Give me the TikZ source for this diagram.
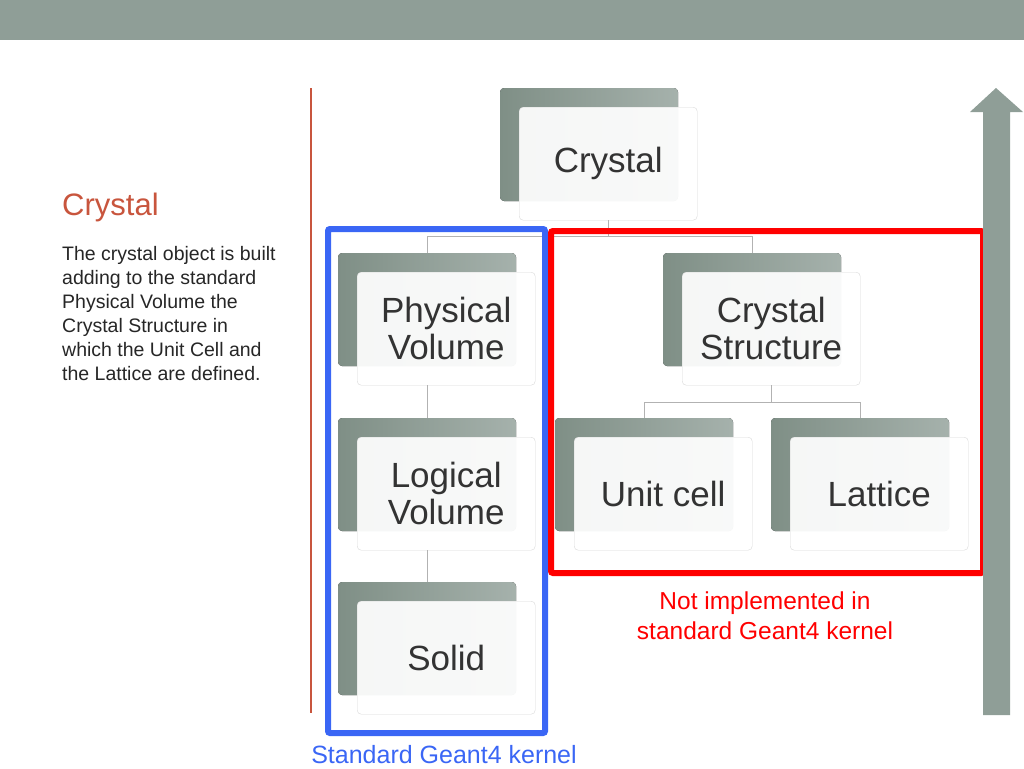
\documentclass[tikz,border=0pt]{standalone}
\usepackage{fontspec}
\setmainfont{Liberation Sans}
\usetikzlibrary{positioning,calc}
\definecolor{sage}{HTML}{8F9E97}
\definecolor{sagedark}{HTML}{7F8F86}
\definecolor{titlered}{HTML}{C8553D}
\definecolor{kblue}{HTML}{3A66F5}
\tikzset{
  backbox/.style={rounded corners=4pt,left color=sagedark,right color=sage!80,draw=none},
  frontbox/.style={draw=black!15,fill=white,fill opacity=.93,text opacity=1,rounded corners=4pt,
    minimum width=178pt,minimum height=113pt,inner sep=0pt,align=center,font=\fontsize{35}{37}\selectfont,text=black!80},
  link/.style={draw=black!30,line width=.8pt}
}
\begin{document}
\begin{tikzpicture}[x=1pt,y=-1pt]
  \useasboundingbox (0,0) rectangle (1024,768);
  \fill[sage] (0,0) rectangle (1024,40);
  % linke Spalte
  \draw[titlered,line width=1.5pt] (311,88)--(311,713);
  \node[anchor=west,inner sep=0pt,text=titlered,font=\fontsize{31}{32}\selectfont] (title) at (62,207) {Crystal};
  \node[anchor=north west,align=left,inner sep=0pt,font=\fontsize{19.5}{24}\selectfont,text=black!85] (desc) at (62,246)
    {The crystal object is built\\adding to the standard\\Physical Volume the\\Crystal Structure in\\which the Unit Cell and\\the Lattice are defined.};
  % Kaesten
  \foreach \name/\x/\y/\txt in {crystal/519/107/Crystal, phys/357/272/{Physical\\Volume},
      logic/357/437/{Logical\\Volume}, solid/357/601/Solid, struct/682/272/{Crystal\\Structure},
      unit/574/437/{Unit cell}, lattice/790/437/Lattice} {
    \fill[backbox] (\x-19,\y-19) rectangle ++(178,113);
    \node[frontbox,anchor=north west] (\name) at (\x,\y) {\txt};
  }
  % Verbindungen
  \draw[link] (crystal.south) -- ++(0,16) coordinate (c1);
  \draw[link] ($(phys.north)+(-19,-19)$) |- (c1) -| ($(struct.north)+(-19,-19)$);
  \draw[link] ($(phys.south)+(-19,0)$) -- ($(logic.north)+(-19,-19)$);
  \draw[link] ($(logic.south)+(-19,0)$) -- ($(solid.north)+(-19,-19)$);
  \draw[link] (struct.south) -- ++(0,17) coordinate (s1);
  \draw[link] ($(unit.north)+(-19,-19)$) |- (s1) -| ($(lattice.north)+(-19,-19)$);
  % Rahmen
  \draw[kblue,line width=6pt,rounded corners=2pt] (328,229) rectangle (545,733);
  \draw[red,line width=6pt,rounded corners=2pt] (551,231) rectangle (983,573);
  \node[text=red,align=center,font=\fontsize{24.5}{30}\selectfont] (notimpl) at (765,616) {Not implemented in\\standard Geant4 kernel};
  \node[text=kblue,font=\fontsize{25}{26}\selectfont] (std) at (444,755) {Standard Geant4 kernel};
  % Pfeil
  \fill[sage] (983,715) -- (983,112) -- (970,112) -- (996,88) -- (1023,112) -- (1010,112) -- (1010,715) -- cycle;
\end{tikzpicture}
\end{document}
